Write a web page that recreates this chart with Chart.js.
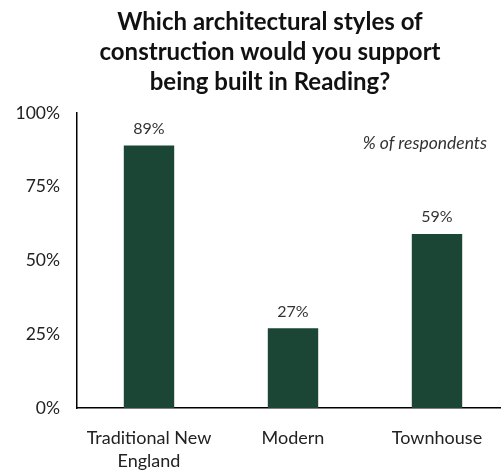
<!DOCTYPE html>
<html>
<head>
<meta charset="utf-8">
<script src="https://cdn.jsdelivr.net/npm/chart.js@4"></script>
<style>
  html, body { margin: 0; padding: 0; background: #fff; }
  #wrap { width: 501px; height: 472px; overflow: hidden; }
</style>
</head>
<body>
<div id="wrap"><canvas id="myChart" width="509" height="472"></canvas></div>
<script>
const categories = [['Traditional New', 'England'], 'Modern', 'Townhouse'];
const values = [89, 27, 59];
const yTicks = [0, 25, 50, 75, 100];
const titleLines = ['Which architectural styles of', 'construction would you support', 'being built in Reading?'];
const note = '% of respondents';

const FONT = 'Lato, "Open Sans", sans-serif';

// title, value labels and the note, drawn on the canvas
const extras = {
  id: 'extras',
  afterDraw(chart) {
    const ctx = chart.ctx;
    ctx.save();
    ctx.fillStyle = '#111';
    ctx.textAlign = 'center';
    ctx.textBaseline = 'middle';
    ctx.font = 'bold 24px ' + FONT;
    titleLines.forEach((t, i) => ctx.fillText(t, 270, 22 + i * 30));

    ctx.font = '16px ' + FONT;
    ctx.fillStyle = '#333';
    const meta = chart.getDatasetMeta(0);
    meta.data.forEach((bar, i) => {
      ctx.fillText(values[i] + '%', bar.x, bar.y - 17);
    });

    ctx.font = 'italic 17.5px ' + FONT;
    ctx.textAlign = 'right';
    ctx.fillText(note, 487, 143);
    ctx.restore();
  }
};

const ctx = document.getElementById('myChart').getContext('2d');
new Chart(ctx, {
  type: 'bar',
  data: {
    labels: categories,
    datasets: [{
      data: values,
      backgroundColor: '#1b4636',
      barPercentage: 0.35,
      categoryPercentage: 1
    }]
  },
  options: {
    responsive: false,
    animation: false,
    layout: { padding: { top: 113, right: 0, left: 0, bottom: 0 } },
    plugins: { legend: { display: false }, tooltip: { enabled: false } },
    scales: {
      x: {
        grid: { display: false, drawTicks: false },
        border: { color: '#000', width: 1.5 },
        ticks: { color: '#222', font: { family: FONT, size: 18, lineHeight: 1.25 }, padding: 19, maxRotation: 0 },
        afterFit(s) { s.height = 64; }
      },
      y: {
        min: 0,
        max: 100,
        afterBuildTicks(s) { s.ticks = yTicks.map(v => ({ value: v })); },
        grid: { display: false, drawTicks: false },
        border: { color: '#000', width: 1.5 },
        ticks: { color: '#222', font: { family: FONT, size: 17.5 }, padding: 17, callback: v => v + '%' },
        afterFit(s) { s.width = 77; }
      }
    }
  },
  plugins: [extras]
});
</script>
</body>
</html>
